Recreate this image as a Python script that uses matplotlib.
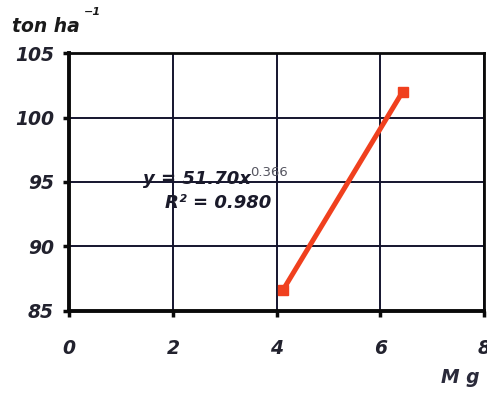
import matplotlib
matplotlib.use("Agg")
import matplotlib.pyplot as plt

x_vals = [4.12, 6.43]
y_vals = [86.6, 102.0]
x_ticks = [0, 2, 4, 6, 8]
y_ticks = [85, 90, 95, 100, 105]

plt.rcParams['font.family'] = ['DejaVu Sans']

fig = plt.figure(figsize=(4.87, 3.93), dpi=100)
ax = fig.add_axes([0.142, 0.209, 0.852, 0.656])
ax.set_xlim(0, 8)
ax.set_ylim(85, 105)
ax.set_xticks(x_ticks)
ax.set_yticks(y_ticks)
ax.grid(True, color='#14142e', linewidth=1.4)
ax.set_axisbelow(True)

ax.plot(x_vals, y_vals, color='#f0401e', linewidth=3.6, marker='s', markersize=7, zorder=3)

for s in ['left', 'bottom']:
    ax.spines[s].set_linewidth(2.8)
for s in ['top', 'right']:
    ax.spines[s].set_linewidth(2.0)
for s in ax.spines.values():
    s.set_color('#0a0a0a')

ax.tick_params(axis='both', length=4, width=2.5, color='#0a0a0a', labelsize=13.5)
ax.tick_params(axis='y', pad=7)
ax.tick_params(axis='x', pad=16)
for lab in ax.get_xticklabels() + ax.get_yticklabels():
    lab.set_fontweight('bold')
    lab.set_fontstyle('italic')
    lab.set_color('#22222e')

fig.text(0.025, 0.918, 'ton ha', fontsize=13.5, fontweight='bold',
         fontstyle='italic', color='#1a1a1a')
fig.text(0.172, 0.962, '\u22121', fontsize=8, fontweight='bold',
         fontstyle='italic', color='#1a1a1a')
fig.text(0.905, 0.025, 'M g', fontsize=13.5, fontweight='bold',
         fontstyle='italic', color='#2a2a3a')

ax.text(1.43, 94.85, 'y = 51.70x', fontsize=13, fontweight='bold',
        fontstyle='italic', color='#1a1a2a', va='baseline', ha='left')
ax.text(3.49, 95.45, '0.366', fontsize=9.5, color='#555560', va='baseline', ha='left')
ax.text(1.85, 93.0, 'R\u00b2 = 0.980', fontsize=13, fontweight='bold',
        fontstyle='italic', color='#1a1a2a', va='baseline', ha='left')

fig.savefig('out.png', dpi=100)
